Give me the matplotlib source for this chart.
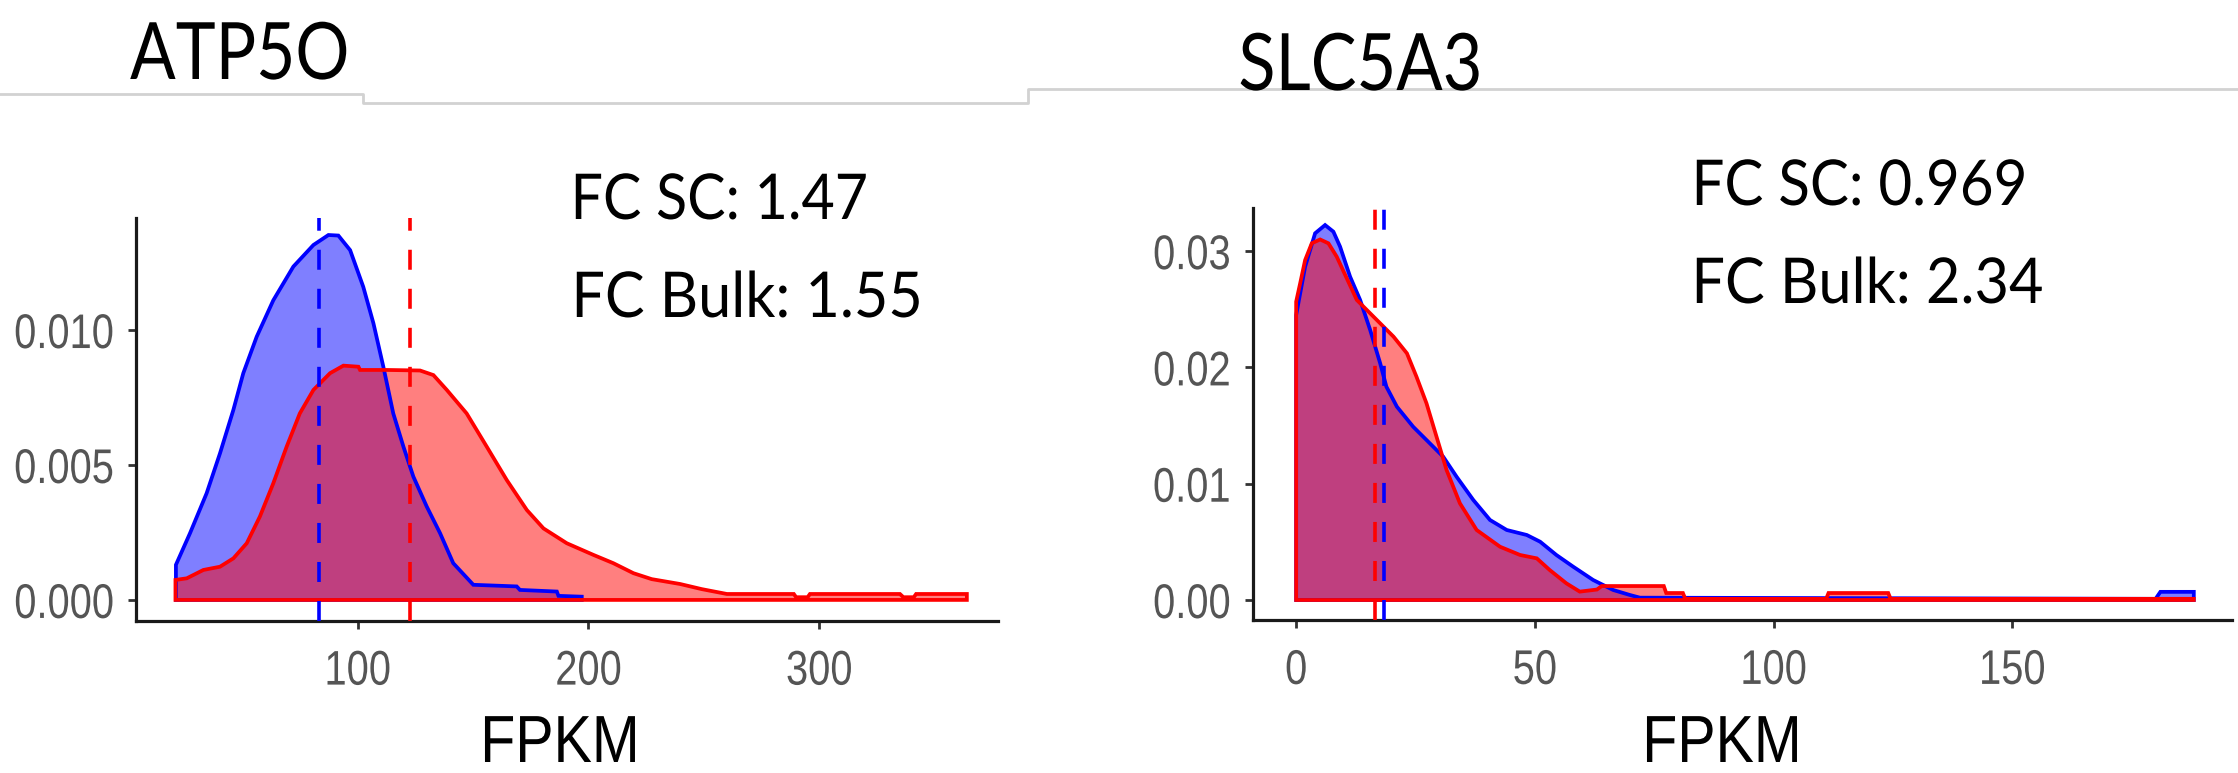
import matplotlib
matplotlib.use('Agg')
import matplotlib.pyplot as plt
from matplotlib.lines import Line2D
from matplotlib.patheffects import AbstractPathEffect
from matplotlib.transforms import Affine2D

# ATP5O density curves (FPKM, density)
atp5o_blue_x = [21.2, 27.3, 34.5, 40.3, 46.1, 50.4, 56.2, 63.4, 72.1, 80.8, 87.3, 91.6,
                96.7, 102.4, 106.8, 111.1, 115.4, 119.8, 124.1, 129.9, 135.7, 141.4,
                150.1, 168.9, 170.3, 186.3, 187.0, 197.1]
atp5o_blue_y = [0.0013, 0.00247, 0.00395, 0.00543, 0.00704, 0.0084, 0.00975, 0.0111,
                0.01235, 0.01315, 0.01352, 0.0135, 0.01296, 0.0116, 0.01025, 0.00864,
                0.00691, 0.00568, 0.00457, 0.00346, 0.00247, 0.00136, 0.00056, 0.0005,
                0.00037, 0.00031, 0.00015, 0.00012]
atp5o_red_x = [21.0, 25.9, 33.1, 40.3, 46.1, 51.9, 57.6, 63.4, 69.2, 74.9, 80.8, 88.0,
               93.8, 100.3, 101.0, 112.6, 127.0, 132.8, 138.6, 147.2, 155.9, 164.6,
               173.3, 180.5, 190.6, 202.1, 210.8, 219.5, 227.4, 239.7, 249.1, 260.0,
               289.0, 290.0, 295.0, 296.0, 335.0, 336.5, 341.0, 342.0, 364.0]
atp5o_red_y = [0.00074, 0.0008, 0.00111, 0.00123, 0.00154, 0.0021, 0.00309, 0.00432,
               0.00568, 0.00691, 0.00778, 0.0084, 0.00868, 0.00864, 0.00852, 0.00852,
               0.0085, 0.00833, 0.00778, 0.00691, 0.00568, 0.00444, 0.00333, 0.00265,
               0.0021, 0.00167, 0.00136, 0.00099, 0.00077, 0.00059, 0.0004, 0.00022,
               0.00022, 0.0001, 0.0001, 0.00022, 0.00022, 0.0001, 0.0001, 0.00022,
               0.00022]
atp5o_blue_mean = 83.0
atp5o_red_mean = 122.5

# SLC5A3 density curves
slc5a3_blue_x = [0.0, 1.88, 3.97, 6.06, 7.8, 9.2, 11.3, 13.4, 15.5, 17.6, 18.9, 21.1,
                 24.5, 28.0, 30.8, 33.6, 37.1, 40.6, 44.1, 48.3, 51.1, 54.5, 58.0,
                 62.2, 66.4, 69.9, 72.0, 180.0, 181.0, 188.0]
slc5a3_blue_y = [0.0245, 0.02866, 0.03153, 0.03224, 0.03167, 0.03038, 0.0278, 0.0258,
                 0.02322, 0.02035, 0.01834, 0.01662, 0.0149, 0.01347, 0.01232, 0.0106,
                 0.0086, 0.00688, 0.00602, 0.00559, 0.00501, 0.00387, 0.00287, 0.00172,
                 0.00086, 0.00043, 0.0002, 0.0001, 0.0007, 0.0007]
slc5a3_red_x = [0.0, 0.84, 1.88, 3.27, 5.02, 6.76, 8.5, 10.6, 12.7, 15.5, 18.3, 20.4,
                23.2, 25.2, 27.3, 29.4, 31.5, 34.3, 37.8, 42.7, 46.9, 50.4, 53.1, 56.6,
                59.4, 63.0, 64.0, 77.0, 77.5, 81.0, 81.5, 111.0, 111.5, 124.0, 124.5,
                188.0]
slc5a3_red_y = [0.02565, 0.02723, 0.02923, 0.03067, 0.031, 0.03067, 0.02952, 0.02766,
                0.0258, 0.02465, 0.0235, 0.02264, 0.02121, 0.0192, 0.01691, 0.01404,
                0.01118, 0.00831, 0.00602, 0.00458, 0.00387, 0.00358, 0.00258, 0.00143,
                0.00072, 0.0009, 0.0012, 0.0012, 0.0006, 0.0006, 0.0001, 0.0001,
                0.0006, 0.0006, 0.0001, 0.0001]
slc5a3_blue_mean = 18.5
slc5a3_red_mean = 16.6

atp5o_yticks = [0.000, 0.005, 0.010]
atp5o_ytick_labels = ['0.000', '0.005', '0.010']
atp5o_xticks = [100, 200, 300]
slc5a3_yticks = [0.00, 0.01, 0.02, 0.03]
slc5a3_ytick_labels = ['0.00', '0.01', '0.02', '0.03']
slc5a3_xticks = [0, 50, 100, 150]

plt.rcParams['font.family'] = ['Liberation Sans', 'DejaVu Sans']
plt.rcParams['lines.scale_dashes'] = False

W, H = 2238, 773
fig = plt.figure(figsize=(W / 100, H / 100), dpi=100)


class Stretch(AbstractPathEffect):
    """Rescale glyphs about an anchor: by factors, or to a width in pixels."""

    def __init__(self, sx=1.0, sy=1.0, width=None, ax=0.0, ay=0.0):
        super().__init__()
        self.sx, self.sy, self.width = sx, sy, width
        self.ax, self.ay = ax, ay

    def draw_path(self, renderer, gc, tpath, affine, rgbFace=None):
        ext = tpath.get_extents()
        sx = self.sx
        if self.width is not None:
            sx = self.width / affine.transform_path(tpath).get_extents().width
        x0 = ext.x0 + self.ax * ext.width
        y0 = ext.y0 + self.ay * ext.height
        aff = Affine2D().translate(-x0, -y0).scale(sx, self.sy).translate(x0, y0) + affine
        renderer.draw_path(gc, tpath, aff, rgbFace)


def px_axes(x0, y0, x1, y1):
    # axes box from pixel corners (top-left origin)
    return fig.add_axes([x0 / W, 1 - y1 / H, (x1 - x0) / W, (y1 - y0) / H])


def density_panel(ax, bx, by, rx, ry, bmean, rmean, xlim, ylim, xticks, yticks, ylabels):
    for xs, ys, col in [(bx, by, 'blue'), (rx, ry, 'red')]:
        px = list(xs) + [xs[-1], xs[0]]
        py = list(ys) + [0, 0]
        ax.fill(px, py, facecolor=col, alpha=0.5, edgecolor='none', zorder=2)
        ax.fill(px, py, facecolor='none', edgecolor=col, lw=2.7, zorder=2.1,
                joinstyle='miter')
    for m, col in [(bmean, 'blue'), (rmean, 'red')]:
        ax.plot([m, m], [ylim[0], ylim[1]], color=col, lw=2.6,
                linestyle=(0, (14.4, 13.7)), zorder=3, dash_capstyle='butt')
    ax.set_xlim(*xlim)
    ax.set_ylim(*ylim)
    ax.set_xticks(xticks)
    ax.set_xticklabels([str(t) for t in xticks])
    ax.set_yticks(yticks)
    ax.set_yticklabels(ylabels)
    for side in ['top', 'right']:
        ax.spines[side].set_visible(False)
    for side in ['left', 'bottom']:
        ax.spines[side].set_linewidth(2.3)
        ax.spines[side].set_color('#1a1a1a')
    # tall, narrow tick numbers
    ax.tick_params(axis='both', length=6, width=2, color='#333333',
                   labelcolor='#555555', labelsize=28.7)
    ax.tick_params(axis='y', pad=10)
    ax.tick_params(axis='x', pad=14)
    for lab in ax.get_yticklabels():
        lab.set_path_effects([Stretch(sy=1.22, ax=1.0, ay=0.5)])
    for lab in ax.get_xticklabels():
        lab.set_path_effects([Stretch(sy=1.22, ax=0.5, ay=1.0)])
    ax.patch.set_alpha(0)


ax1 = px_axes(136, 218, 998, 620.7)
density_panel(ax1, atp5o_blue_x, atp5o_blue_y, atp5o_red_x, atp5o_red_y,
              atp5o_blue_mean, atp5o_red_mean, (3.9, 377.5), (-0.00077, 0.01415),
              atp5o_xticks, atp5o_yticks, atp5o_ytick_labels)

ax2 = px_axes(1252.7, 208.3, 2232, 620)
density_panel(ax2, slc5a3_blue_x, slc5a3_blue_y, slc5a3_red_x, slc5a3_red_y,
              slc5a3_blue_mean, slc5a3_red_mean, (-9.1, 196), (-0.00172, 0.03368),
              slc5a3_xticks, slc5a3_yticks, slc5a3_ytick_labels)


def ftext(x, y, s, size, width, family='Lato', ha='left'):
    anchor = {'left': 0.0, 'center': 0.5}[ha]
    fig.text(x / W, 1 - y / H, s, fontsize=size, va='baseline', ha=ha,
             family=[family, 'DejaVu Sans'],
             path_effects=[Stretch(width=width, ax=anchor)])


# gene names and fold changes
ftext(130, 79, 'ATP5O', 57, 216)
ftext(1238, 90, 'SLC5A3', 57, 238)
ftext(570, 219, 'FC SC: 1.47', 45.5, 290)
ftext(571, 317, 'FC Bulk: 1.55', 45.5, 342)
ftext(1691, 205, 'FC SC: 0.969', 45.5, 327)
ftext(1691, 303, 'FC Bulk: 2.34', 45.5, 345)
ftext(560, 762, 'FPKM', 48, 150, family='Liberation Sans', ha='center')
ftext(1722, 762, 'FPKM', 48, 150, family='Liberation Sans', ha='center')

# thin rule across the header
rule_x = [0, 363, 363, 1028, 1028, 2238]
rule_y = [94, 94, 103, 103, 89, 89]
fig.add_artist(Line2D([x / W for x in rule_x], [1 - y / H for y in rule_y],
                      transform=fig.transFigure, color='#d2d2d2', lw=2))

fig.savefig('out.png', dpi=100)
